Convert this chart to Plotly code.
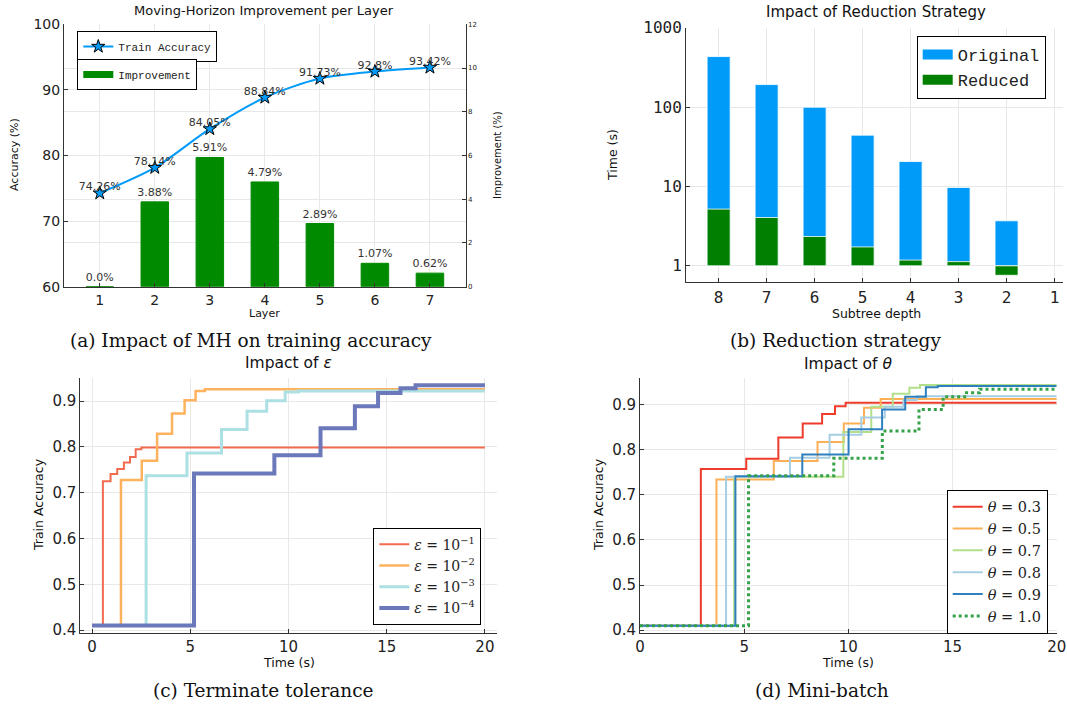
import plotly.graph_objects as go

W, H = 1067, 706


def px(x):
    return x / W


def py(y):
    return 1 - y / H


# ---------------- (a) moving-horizon improvement ----------------
layers = [1, 2, 3, 4, 5, 6, 7]
train_acc = [74.26, 78.14, 84.05, 88.84, 91.73, 92.8, 93.42]
improvement = [0.0, 3.88, 5.91, 4.79, 2.89, 1.07, 0.62]

# ---------------- (b) reduction strategy ----------------
depths = [8, 7, 6, 5, 4, 3, 2]
depth_ticks = [8, 7, 6, 5, 4, 3, 2, 1]
time_original = [433, 192, 99.6, 44.3, 20.6, 9.7, 3.69]
time_reduced = [5.18, 4.06, 2.34, 1.73, 1.18, 1.13, 0.76]
time_ticks = [1, 10, 100, 1000]

# ---------------- (c) terminate tolerance ----------------
eps1_t = [0, 0.55, 0.94, 1.28, 1.62, 1.93, 2.22, 2.51, 20]
eps1_acc = [0.41, 0.725, 0.741, 0.752, 0.766, 0.778, 0.795, 0.799, 0.799]
eps2_t = [0, 1.47, 2.53, 3.31, 4.07, 4.71, 5.27, 5.74, 20]
eps2_acc = [0.41, 0.728, 0.770, 0.829, 0.873, 0.902, 0.922, 0.926, 0.926]
eps3_t = [0, 2.75, 4.83, 6.59, 7.89, 8.89, 9.83, 10.5, 20]
eps3_acc = [0.41, 0.737, 0.787, 0.838, 0.878, 0.901, 0.920, 0.922, 0.922]
eps4_t = [0, 5.19, 9.28, 11.63, 13.38, 14.56, 15.70, 16.47, 20]
eps4_acc = [0.41, 0.742, 0.782, 0.841, 0.889, 0.918, 0.928, 0.935, 0.935]
eps_names = ["<i>ε</i> = 10<sup>−1</sup>", "<i>ε</i> = 10<sup>−2</sup>",
             "<i>ε</i> = 10<sup>−3</sup>", "<i>ε</i> = 10<sup>−4</sup>"]

# ---------------- (d) mini-batch ----------------
th03_t = [0, 2.92, 5.10, 6.64, 7.81, 8.74, 9.36, 9.87, 20]
th03_acc = [0.41, 0.757, 0.780, 0.827, 0.858, 0.879, 0.896, 0.904, 0.904]
th05_t = [0, 3.67, 6.42, 8.52, 9.78, 10.75, 11.55, 20]
th05_acc = [0.41, 0.734, 0.775, 0.817, 0.858, 0.893, 0.912, 0.913]
th07_t = [0, 4.52, 9.76, 11.10, 12.13, 12.93, 13.44, 20]
th07_acc = [0.41, 0.740, 0.839, 0.895, 0.924, 0.937, 0.943, 0.943]
th08_t = [0, 4.13, 7.20, 9.10, 10.62, 11.75, 12.64, 13.28, 20]
th08_acc = [0.41, 0.740, 0.782, 0.833, 0.871, 0.895, 0.910, 0.918, 0.918]
th09_t = [0, 4.58, 7.79, 10.01, 11.62, 12.73, 13.72, 14.29, 20]
th09_acc = [0.41, 0.741, 0.789, 0.845, 0.889, 0.917, 0.938, 0.941, 0.941]
th10_t = [0, 5.21, 9.30, 11.63, 13.39, 14.55, 15.67, 16.30, 20]
th10_acc = [0.41, 0.742, 0.781, 0.841, 0.889, 0.917, 0.926, 0.934, 0.934]
theta_names = ["<i>θ</i> = 0.3", "<i>θ</i> = 0.5", "<i>θ</i> = 0.7",
               "<i>θ</i> = 0.8", "<i>θ</i> = 0.9", "<i>θ</i> = 1.0"]

BLUE = "#009af9"
GREEN_A = "#008a00"
GREEN_B = "#007f00"
AXIS = "#333333"
GRID = "#e8e8e8"
SANS = "DejaVu Sans"
SERIF = "DejaVu Serif"
MONO = "Liberation Mono"

fig = go.Figure()

# ---- (a) bars on right axis, accuracy line on left axis ----
fig.add_trace(go.Bar(
    x=layers, y=improvement, xaxis="x", yaxis="y", width=0.5,
    marker=dict(color=GREEN_A, line=dict(color=GREEN_A, width=1)),
    text=[f"{v}%" for v in improvement], textposition="outside",
    constraintext="none", cliponaxis=False,
    textfont=dict(family=SANS, size=11, color="#333"), showlegend=False))
fig.add_trace(go.Scatter(
    x=layers, y=train_acc, xaxis="x", yaxis="y2", mode="lines+markers",
    line=dict(color=BLUE, width=2, shape="spline", smoothing=0.8),
    marker=dict(symbol="star", size=10, color=BLUE,
                line=dict(color="black", width=1)),
    name="Train Accuracy", legend="legend"))
fig.add_trace(go.Scatter(
    x=layers, y=train_acc, xaxis="x", yaxis="y2", mode="text",
    text=[f"{v}%" for v in train_acc], textposition="top center",
    textfont=dict(family=SANS, size=11, color="#333"),
    cliponaxis=False, showlegend=False))
fig.add_trace(go.Scatter(
    x=[None], y=[None], xaxis="x", yaxis="y", mode="lines",
    line=dict(color=GREEN_A, width=7), name="Improvement", legend="legend2"))

# ---- (b) log-scale bars from 1 ----
fig.add_trace(go.Bar(
    x=depths, y=[v - 1 for v in time_original], base=1, width=0.48,
    xaxis="x2", yaxis="y3", marker=dict(color=BLUE, line=dict(color="rgba(255,255,255,0.8)", width=1)),
    showlegend=False))
fig.add_trace(go.Bar(
    x=depths, y=[v - 1 for v in time_reduced], base=1, width=0.48,
    xaxis="x2", yaxis="y3", marker=dict(color=GREEN_B, line=dict(color="rgba(255,255,255,0.8)", width=1)),
    showlegend=False))
for nm, col in [("Original", BLUE), ("Reduced", GREEN_B)]:
    fig.add_trace(go.Scatter(
        x=[None], y=[None], xaxis="x2", yaxis="y3", mode="lines",
        line=dict(color=col, width=11), name=nm, legend="legend3"))

# ---- (c) tolerance curves ----
eps_series = [(eps1_t, eps1_acc, "#f26b4f", 2),
              (eps2_t, eps2_acc, "#ffb25e", 2.5),
              (eps3_t, eps3_acc, "#ace0e2", 3),
              (eps4_t, eps4_acc, "#6b78b9", 4)]
for (t, a, col, w), nm in zip(eps_series, eps_names):
    fig.add_trace(go.Scatter(
        x=t, y=a, xaxis="x3", yaxis="y4", mode="lines",
        line=dict(color=col, width=w, shape="hv"), name=nm, legend="legend4"))

# ---- (d) mini-batch curves ----
theta_series = [(th03_t, th03_acc, "#ee3b2b", 2, "solid"),
                (th05_t, th05_acc, "#fdaf55", 2, "solid"),
                (th07_t, th07_acc, "#b2df8a", 2, "solid"),
                (th08_t, th08_acc, "#a6cee3", 2, "solid"),
                (th09_t, th09_acc, "#2f7fbf", 2, "solid"),
                (th10_t, th10_acc, "#35a24a", 3, "dot")]
for (t, a, col, w, dash), nm in zip(theta_series, theta_names):
    fig.add_trace(go.Scatter(
        x=t, y=a, xaxis="x4", yaxis="y5", mode="lines",
        line=dict(color=col, width=w, shape="hv", dash=dash), name=nm,
        legend="legend5"))


def ax(**kw):
    base = dict(showline=True, linecolor=AXIS, linewidth=1, showgrid=True,
                gridcolor=GRID, gridwidth=1, zeroline=False, ticks="inside",
                ticklen=4, tickcolor=AXIS, automargin=False,
                tickfont=dict(family=SANS, size=14, color="#222"))
    base.update(kw)
    return base


def box_legend(x, y, font):
    return dict(x=px(x), y=py(y), xanchor="left", yanchor="top",
                bordercolor="black", borderwidth=1, bgcolor="white",
                tracegroupgap=0, font=font)


fig.update_layout(
    width=W, height=H, autosize=False,
    margin=dict(l=0, r=0, t=0, b=0, autoexpand=False),
    paper_bgcolor="white", plot_bgcolor="white",
    barmode="overlay", showlegend=True,
    # (a)
    xaxis=ax(domain=[px(64), px(465.7)], range=[0.35, 7.65], tickvals=layers,
             anchor="y"),
    yaxis=ax(domain=[py(286.7), py(24.3)], range=[0, 12], tickvals=[0, 2, 4, 6, 8, 10, 12],
             side="right", anchor="x", tickfont=dict(family=SANS, size=7, color="#222")),
    yaxis2=ax(range=[60, 100], tickvals=[60, 70, 80, 90, 100], overlaying="y",
              side="left", anchor="x"),
    # (b)
    xaxis2=ax(domain=[px(686), px(1062.7)], range=[8.68, 0.83], tickvals=depth_ticks,
              anchor="y3", tickfont=dict(family="DejaVu Sans Mono", size=16, color="#222")),
    yaxis3=ax(domain=[py(282.3), py(27.7)], type="log", range=[-0.2076, 3],
              tickvals=time_ticks, ticktext=[str(v) for v in time_ticks], anchor="x2",
              tickfont=dict(family="DejaVu Sans Mono", size=16, color="#222")),
    # (c)
    xaxis3=ax(domain=[px(80.3), px(496.7)], range=[-0.6, 20.6], tickvals=[0, 5, 10, 15, 20],
              anchor="y4", tickfont=dict(family=SANS, size=15, color="#222")),
    yaxis4=ax(domain=[py(633.3), py(378.3)], range=[0.393, 0.95],
              tickvals=[0.4, 0.5, 0.6, 0.7, 0.8, 0.9], anchor="x3",
              tickfont=dict(family=SANS, size=15, color="#222")),
    # (d)
    xaxis4=ax(domain=[px(640), px(1056.7)], range=[0, 20], tickvals=[0, 5, 10, 15, 20],
              anchor="y5", tickfont=dict(family=SANS, size=15, color="#222")),
    yaxis5=ax(domain=[py(633.3), py(378.3)], range=[0.393, 0.958],
              tickvals=[0.4, 0.5, 0.6, 0.7, 0.8, 0.9], anchor="x4",
              tickfont=dict(family=SANS, size=15, color="#222")),
    legend=box_legend(77.3, 31, dict(family=MONO, size=11, color="#222")),
    legend2=box_legend(77.3, 59, dict(family=MONO, size=11, color="#222")),
    legend3=box_legend(916.7, 36, dict(family=MONO, size=17, color="#222")),
    legend4=box_legend(373.3, 527.7, dict(family=SERIF, size=14, color="#222")),
    legend5=box_legend(946.7, 489.7, dict(family=SERIF, size=14.5, color="#222")),
)


def note(text, x, y, size, family=SANS, angle=0):
    fig.add_annotation(text=text, x=px(x), y=py(y), xref="paper", yref="paper",
                       showarrow=False, xanchor="center", yanchor="middle",
                       textangle=angle, font=dict(family=family, size=size, color="#111"))


# titles
note("Moving-Horizon Improvement per Layer", 264, 11, 13)
note("Impact of Reduction Strategy", 876, 12, 15)
note("Impact of <i>ε</i>", 288, 363, 15.5)
note("Impact of <i>θ</i>", 848, 364, 15.5)
# axis titles
note("Layer", 264, 313, 11)
note("Accuracy (%)", 14, 155, 11, angle=-90)
note("Improvement (%)", 497, 155, 10, angle=-90)
note("Subtree depth", 876, 313, 12.5)
note("Time (s)", 612, 155, 12.5, angle=-90)
note("Time (s)", 289, 662, 12.5)
note("Train Accuracy", 38, 505, 12.5, angle=-90)
note("Time (s)", 848, 662, 12.5)
note("Train Accuracy", 598, 505, 12.5, angle=-90)
# captions
note("(a) Impact of MH on training accuracy", 251, 340, 18.5, family=SERIF)
note("(b) Reduction strategy", 835, 340, 18.5, family=SERIF)
note("(c) Terminate tolerance", 263, 690, 18.5, family=SERIF)
note("(d) Mini-batch", 822, 690, 18.5, family=SERIF)

fig.write_html("out.html")
